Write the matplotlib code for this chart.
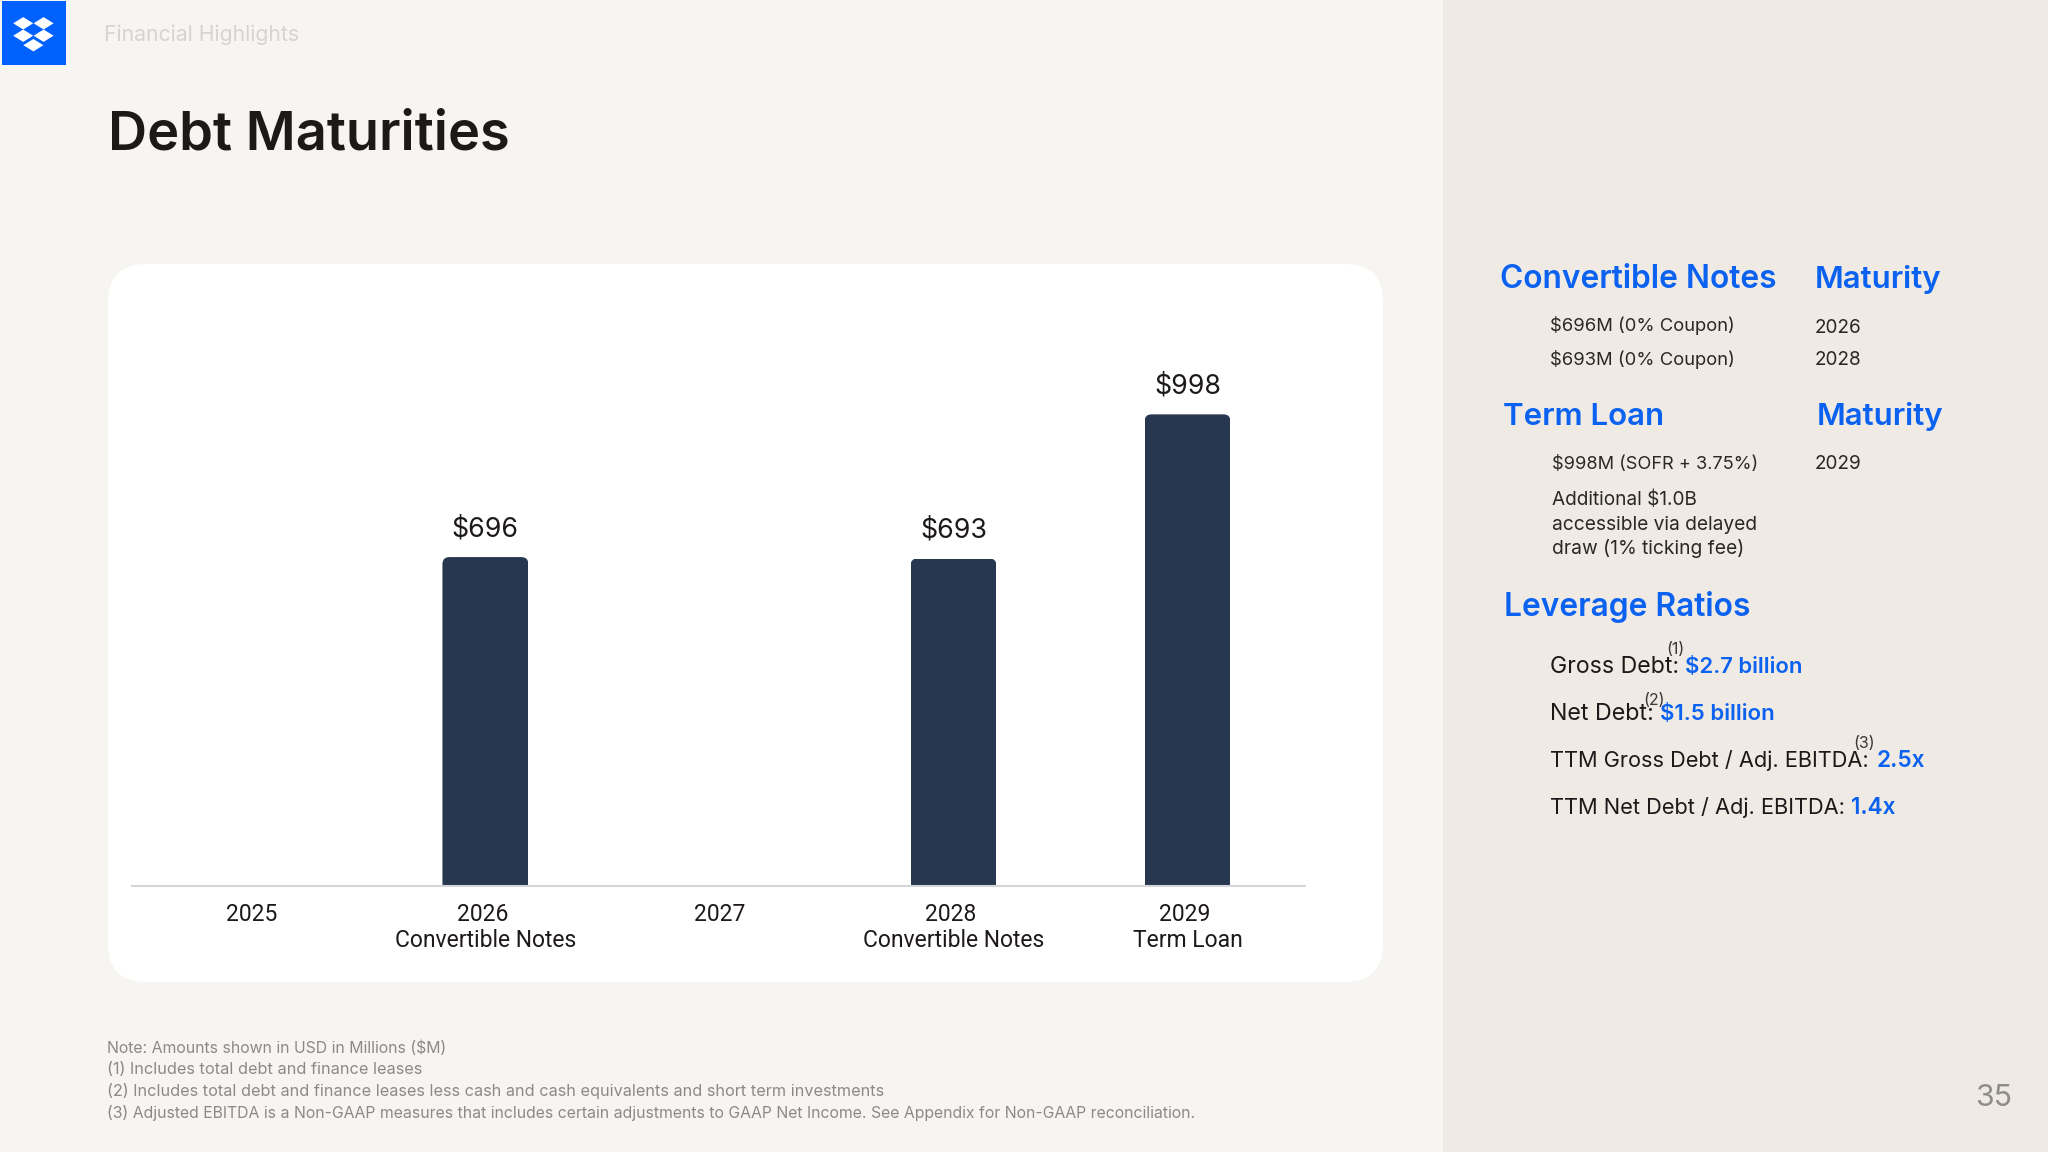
import matplotlib
matplotlib.use("Agg")
import matplotlib.pyplot as plt
from matplotlib.patches import Rectangle, FancyBboxPatch, Polygon

plt.rcParams['font.family'] = ['Inter', 'DejaVu Sans']

# ---- data ----
years = [2025, 2026, 2027, 2028, 2029]
amounts = [0, 696, 0, 693, 998]
sublabels = ['', 'Convertible Notes', '', 'Convertible Notes', 'Term Loan']

BG = '#F7F5F2'; SIDE = '#EFEAE4'; NAVY = '#27374F'; BLUE = '#0B61F0'
INK = '#1E1919'; GREY = '#8C8A86'; LOGO = '#0061FE'

W, H = 2048, 1152
fig = plt.figure(figsize=(W/100, H/100), dpi=100, facecolor=BG)

page = fig.add_axes([0, 0, 1, 1], zorder=0)
page.set_xlim(0, W); page.set_ylim(H, 0); page.axis('off')
page.add_patch(Rectangle((1443, 0), W-1443, H, fc=SIDE, ec='none'))
page.add_patch(FancyBboxPatch((108+38, 264+38), 1275-76, 718-76,
                              boxstyle='round,pad=38,rounding_size=38', fc='white', ec='none'))
page.add_patch(Rectangle((1.5, 1), 64, 64, fc=LOGO, ec='none'))
for cx, cy in [(23.2, 23.3), (43.6, 23.3), (23.2, 35.7), (43.6, 35.7), (33.4, 45.2)]:
    page.add_patch(Polygon([(cx-10, cy), (cx, cy-6.2), (cx+10, cy), (cx, cy+6.2)], fc='white', ec='none'))

renderer = fig.canvas.get_renderer()

def T(x, y, s, px, color=INK, weight='normal', width=None):
    t = page.text(x-1, y, s, fontsize=px*0.72, color=color, fontweight=weight, ha='left', va='baseline')
    if width:
        w = t.get_window_extent(renderer).width
        t.set_fontsize(px*0.72*(width+2)/w)
    return t

T(105, 41.3, 'Financial Highlights', 21, '#D6D4D1', width=193)
T(109, 149, 'Debt Maturities', 50, INK, 'semibold', width=400)

head = [(1501, 288, 'Convertible Notes', 274), (1816, 288, 'Maturity', 125),
        (1504, 425, 'Term Loan', 159), (1817.7, 425, 'Maturity', 125),
        (1505, 616.4, 'Leverage Ratios', 244)]
for x, y, s, w in head:
    T(x, y, s, 30, BLUE, 'semibold', width=w)

body = [(1550.6, 331, '$696M (0% Coupon)', 183), (1550.6, 365, '$693M (0% Coupon)', 183),
        (1816, 333, '2026', 45), (1816, 364.8, '2028', 45),
        (1553, 469, '$998M (SOFR + 3.75%)', 204), (1816, 469, '2029', 45),
        (1553, 505, 'Additional $1.0B', 143), (1553, 529.7, 'accessible via delayed', 203),
        (1553, 553.8, 'draw (1% ticking fee)', 190)]
for x, y, s, w in body:
    T(x, y, s, 20, '#2A2725', width=w)

ratios = [(1550.6, 673, 'Gross Debt:', 127, 1686, '$2.7 billion', 115.6, 1667, 654.5, '(1)'),
          (1550.6, 720, 'Net Debt:', 102, 1660.8, '$1.5 billion', 113, 1644, 705, '(2)'),
          (1550.6, 767.4, 'TTM Gross Debt / Adj. EBITDA:', 316, 1878, '2.5x', 46.5, 1854, 748, '(3)'),
          (1550.6, 814, 'TTM Net Debt / Adj. EBITDA:', 293, 1852.5, '1.4x', 42.5, None, None, None)]
for x, y, s, w, x2, v, w2, x3, y3, sup in ratios:
    T(x, y, s, 22, INK, width=w)
    T(x2, y, v, 22, BLUE, 'semibold', width=w2)
    if sup:
        T(x3, y3, sup, 16, '#3A3735')

notes = [(1052.7, 'Note: Amounts shown in USD in Millions ($M)', 338),
         (1074, '(1) Includes total debt and finance leases', 312),
         (1096, '(2) Includes total debt and finance leases less cash and cash equivalents and short term investments', 771),
         (1117.7, '(3) Adjusted EBITDA is a Non-GAAP measures that includes certain adjustments to GAAP Net Income. See Appendix for Non-GAAP reconciliation.', 1086)]
for y, s, w in notes:
    T(108, y, s, 15, GREY, width=w)

T(1976, 1105.5, '35', 29, '#8F8D89', width=35)

# ---- chart ----
axL, axR, axT, axB = 132, 1305, 300, 886
ax = fig.add_axes([axL/W, 1-axB/H, (axR-axL)/W, (axB-axT)/H], zorder=1)
ax.patch.set_alpha(0)
ax.set_xlim(2024.490, 2029.502)
ax.set_ylim(0, 1240)
for sp in ['top', 'left', 'right']:
    ax.spines[sp].set_visible(False)
ax.spines['bottom'].set_color('#D5D6DA'); ax.spines['bottom'].set_linewidth(1.5)
ax.yaxis.set_visible(False)

bar_years = [y for y, a in zip(years, amounts) if a]
bar_vals = [a for a in amounts if a]
bars = ax.bar(bar_years, bar_vals, width=0.367, color=NAVY, zorder=2)
sx = 234.0   # px per year
sy = 586 / 1240
r = 7 / sx
for b in bars:
    clip = FancyBboxPatch((b.get_x()+r, -100), b.get_width()-2*r, b.get_height()+100-r*sx/sy,
                          boxstyle=f'round,pad={r},rounding_size={r}', mutation_aspect=sx/sy,
                          transform=ax.transData, fc='none', ec='none')
    b.set_clip_path(clip)
ax.bar_label(bars, labels=[f'${v}' for v in bar_vals], padding=10.5, fontsize=19.3, color=INK)

ax.set_xticks(years)
ax.set_xticklabels([f'{y} \n{s}' if s else str(y) for y, s in zip(years, sublabels)],
                   fontsize=16.5, color=INK, linespacing=1.17, family='Roboto')
ax.tick_params(axis='x', length=0, pad=12.5)

fig.savefig('out.png', dpi=100, facecolor=BG)
